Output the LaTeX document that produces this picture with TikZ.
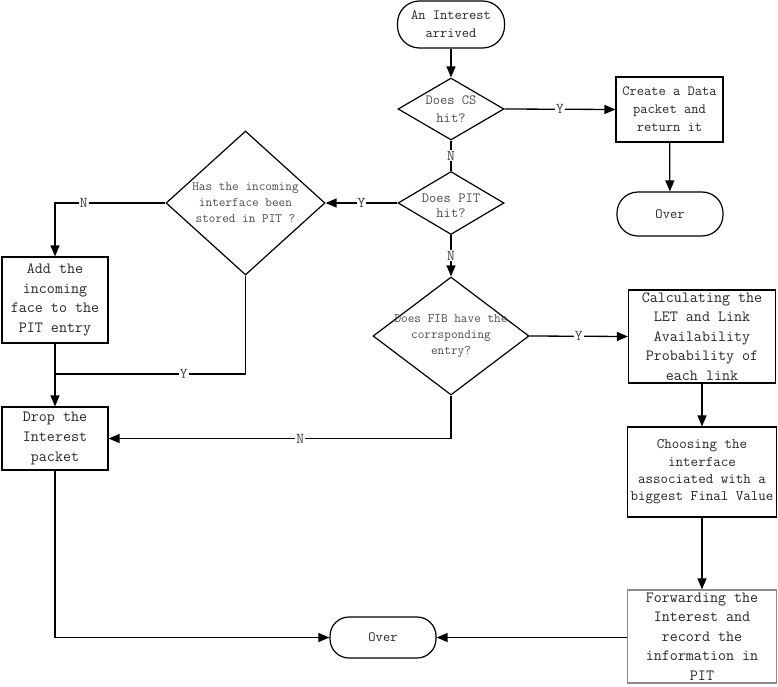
\documentclass[tikz,border=0pt]{standalone}
\usetikzlibrary{shapes.geometric,arrows.meta,calc}
\begin{document}
\begin{tikzpicture}[x=1pt,y=-1pt]
\tikzset{
  conn/.style={line width=1.3pt},
  arr/.style={conn, -{Triangle[length=11pt,width=9pt]}},
  term/.style={draw, line width=1.2pt, inner sep=0pt, align=center, text=black!85},
  proc/.style={draw, line width=1.2pt, rectangle, inner sep=0pt, align=center, text=black!85},
  dia/.style={draw, line width=1.2pt, diamond, inner sep=0pt},
  dtext/.style={align=center, text=black!70, inner sep=0pt},
  yn/.style={fill=white, inner sep=1pt, text=black!75, font=\ttfamily\fontsize{15}{17}\selectfont},
  fS/.style={font=\ttfamily\fontsize{14.1}{18}\selectfont},
  fT/.style={font=\ttfamily\fontsize{14.1}{15}\selectfont},
  fM/.style={font=\ttfamily\fontsize{14.6}{17.3}\selectfont},
  fL/.style={font=\ttfamily\fontsize{15.6}{19.6}\selectfont},
  fD/.style={font=\ttfamily\fontsize{12.9}{16}\selectfont},
}
\useasboundingbox (0,0) rectangle (778,687);

% nodes
\node (start) [term, fS, rounded corners=22pt, minimum width=107pt, minimum height=47pt] at (451,24.5) {An Interest\\arrived};
\node (cs) [dia, minimum width=106pt, minimum height=62pt, label={[dtext,fS]center:{Does CS\\hit?}}] at (451,109) {};
\node (create) [proc, fS, minimum width=107pt, minimum height=65pt] at (669.5,109.5) {Create a Data\\packet and\\return it};
\node (over1) [term, fS, rounded corners=21pt, minimum width=106pt, minimum height=44pt] at (670,214) {Over};
\node (pit) [dia, minimum width=106pt, minimum height=63pt, label={[dtext,fT,yshift=-3pt]center:{Does PIT\\hit?}}] at (451,203) {};
\node (has) [dia, minimum width=159pt, minimum height=144pt, label={[dtext,fD]center:{Has the incoming\\interface been\\stored in PIT ?}}] at (245.5,203) {};
\node (add) [proc, fL, minimum width=106pt, minimum height=86pt] at (55,300) {Add the\\incoming\\face to the\\PIT entry};
\node (fib) [dia, minimum width=156pt, minimum height=118pt, label={[dtext,fD]center:{Does FIB have the\\corrsponding\\entry?}}] at (451,336) {};
\node (calc) [proc, fL, minimum width=147pt, minimum height=93pt] at (702,336.5) {Calculating the\\LET and Link\\Availability\\Probability of\\each link};
\node (drop) [proc, fL, minimum width=106pt, minimum height=63pt] at (55,438.5) {Drop the\\Interest\\packet};
\node (choose) [proc, fM, minimum width=149pt, minimum height=90pt] at (702,472) {Choosing the\\interface\\associated with a\\biggest Final Value};
\node (forward) [proc, fL, draw=black!45, minimum width=149pt, minimum height=93pt] at (702,636.5) {Forwarding the\\Interest and\\record the\\information in\\PIT};
\node (over2) [term, fS, rounded corners=19pt, minimum width=106pt, minimum height=41pt] at (383,637.5) {Over};

\coordinate (j1) at (add.south |- 0,374);

% connectors
\draw[arr] (start) -- (cs);
\draw[arr] (cs.east) -- node[yn] {Y} (create.west);
\draw[arr] (create) -- (over1);
\draw[conn] (cs.south) -- node[yn] {N} (pit.north);
\draw[arr] (pit.west) -- node[yn] {Y} (has.east);
\draw[arr] (has.west) -| node[yn, pos=0.37] {N} (add.north);
\draw[arr] (add.south) -- (drop.north);
\draw[conn] (has.south) |- node[yn, pos=0.662] {Y} (j1);
\draw[arr] (pit.south) -- node[yn] {N} (fib.north);
\draw[arr] (fib.east) -- node[yn] {Y} (calc.west);
\draw[arr] (fib.south) |- node[yn, pos=0.72] {N} (drop.east);
\draw[arr] (calc.south) -- (choose.north);
\draw[arr] (choose.south) -- (forward.north);
\draw[arr] (forward.west |- over2.east) -- (over2.east);
\draw[arr] (drop.south) |- (over2.west);
\end{tikzpicture}
\end{document}
